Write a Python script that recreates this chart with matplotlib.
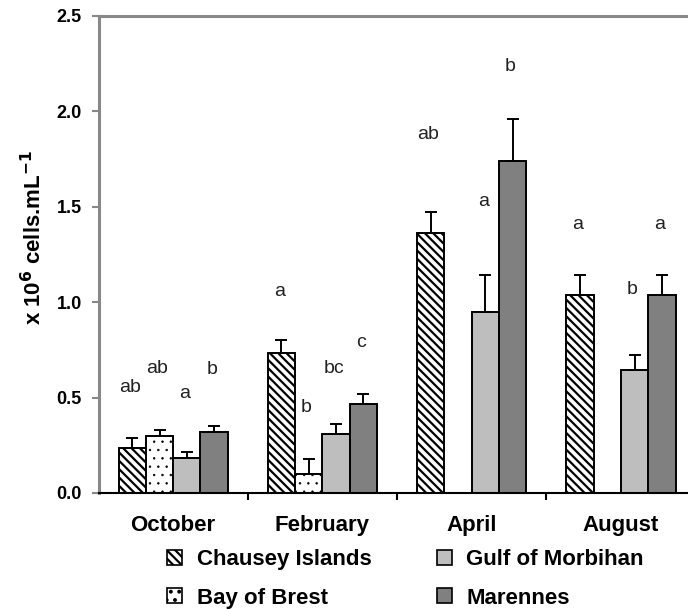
import numpy as np
import matplotlib.pyplot as plt
from matplotlib.patches import Patch

plt.rcParams['font.family'] = ['Liberation Sans', 'DejaVu Sans']
plt.rcParams['hatch.linewidth'] = 1.6

months = ['October', 'February', 'April', 'August']
sites = ['Chausey Islands', 'Bay of Brest', 'Gulf of Morbihan', 'Marennes']

# mean cell density (x 10^6 cells/mL) and upper error, per site
chausey = [0.235, 0.735, 1.365, 1.04]
brest = [0.30, 0.10, 0.0, 0.0]
gulf = [0.185, 0.31, 0.95, 0.645]
marennes = [0.32, 0.465, 1.74, 1.04]

chausey_err = [0.055, 0.065, 0.11, 0.10]
brest_err = [0.03, 0.08, 0.0, 0.0]
gulf_err = [0.03, 0.05, 0.19, 0.08]
marennes_err = [0.03, 0.055, 0.22, 0.105]

# significance letters and their heights
letters = [['ab', 'ab', 'a', 'b'],
           ['a', 'b', 'bc', 'c'],
           ['ab', '', 'a', 'b'],
           ['a', '', 'b', 'a']]
letter_y = [[0.555, 0.655, 0.52, 0.645],
            [1.055, 0.45, 0.655, 0.79],
            [1.88, 0, 1.53, 2.235],
            [1.405, 0, 1.065, 1.405]]

values = [chausey, brest, gulf, marennes]
errors = [chausey_err, brest_err, gulf_err, marennes_err]
colors = ['white', 'white', '#bebebe', '#808080']
hatches = ['\\\\\\\\', '..', None, None]
hatch_lw = [1.6, 0.5, 1.0, 1.0]

fig = plt.figure(figsize=(6.88, 6.09), dpi=100)
ax = fig.add_axes([0.1432, 0.1905, 0.868, 0.7833])

x = np.arange(len(months))
w = 0.183
handles = []
for i in range(4):
    pos = x + (i - 1.5) * w
    vals = np.array(values[i])
    errs = np.array(errors[i])
    keep = vals > 0
    with plt.rc_context({'hatch.linewidth': hatch_lw[i]}):
        ax.bar(pos[keep], vals[keep], w, color=colors[i], edgecolor='black',
               linewidth=1.4, hatch=hatches[i], zorder=2)
        handles.append(Patch(facecolor=colors[i], edgecolor='black',
                             hatch=hatches[i], linewidth=1.2))
    ax.errorbar(pos[keep], vals[keep], yerr=[np.zeros(keep.sum()), errs[keep]],
                fmt='none', ecolor='black', elinewidth=1.4, capsize=4,
                capthick=1.4, zorder=3)
    for j in range(len(months)):
        if letters[j][i]:
            ax.text(pos[j] - 0.015, letter_y[j][i], letters[j][i], ha='center',
                    va='center', fontsize=14, color='#222222')

ax.set_xlim(-0.5, 3.5)
ax.set_ylim(0, 2.5)
ax.set_xticks(x)
ax.set_xticklabels(months, fontsize=16, fontweight='bold')
ax.set_xticks([0.5, 1.5, 2.5], minor=True)
ax.tick_params(axis='x', which='major', length=0, pad=16)
ax.tick_params(axis='x', which='minor', length=5, width=1.5, direction='out')
ax.set_yticks([0, 0.5, 1.0, 1.5, 2.0, 2.5])
ax.set_yticklabels(['0.0', '0.5', '1.0', '1.5', '2.0', '2.5'],
                   fontsize=13, fontweight='bold')
ax.tick_params(axis='y', length=5, width=1.5, color='#888888', pad=7)
ax.set_ylabel('x 10$^\\mathbf{6}$ cells.mL$^\\mathbf{-1}$', fontsize=16,
              fontweight='bold')
ax.yaxis.set_label_coords(-0.087, 0.535)

ax.spines['left'].set_color('#888888')
ax.spines['left'].set_linewidth(2.2)
ax.spines['top'].set_color('#888888')
ax.spines['top'].set_linewidth(2.2)
ax.spines['bottom'].set_linewidth(1.5)
ax.spines['right'].set_visible(False)

fig.legend(handles, sites, ncol=2, loc='upper left',
           bbox_to_anchor=(0.243, 0.098), frameon=False,
           prop={'size': 16, 'weight': 'bold'}, handlelength=0.68,
           handleheight=0.68, handletextpad=0.64, labelspacing=0.78,
           columnspacing=2.95, borderpad=0, borderaxespad=0)

fig.savefig('out.png', dpi=100)
